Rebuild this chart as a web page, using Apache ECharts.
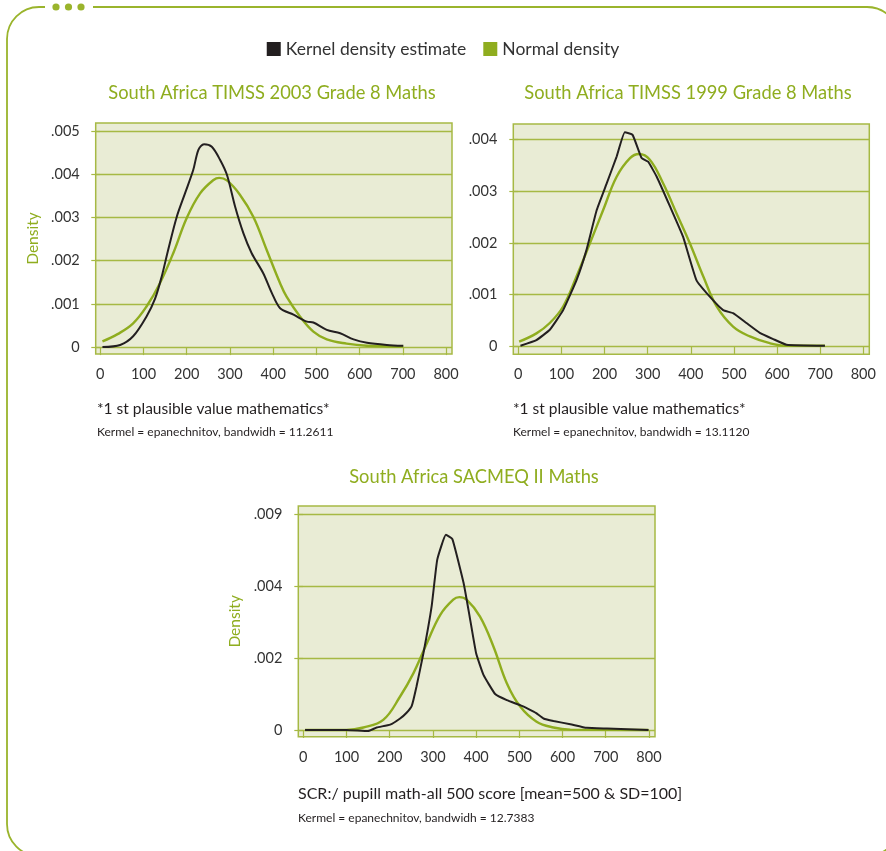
<!DOCTYPE html>
<html><head><meta charset="utf-8">
<script src="https://cdn.jsdelivr.net/npm/echarts@6/dist/echarts.min.js"></script>
<style>html,body{margin:0;padding:0;background:#fff}#c{width:886px;height:851px}</style>
</head><body><div id="c"></div>
<script>
// ---- data ----
const seriesNames = ['Kernel density estimate', 'Normal density'];
const chartTitles = ['South Africa TIMSS 2003 Grade 8 Maths', 'South Africa TIMSS 1999 Grade 8 Maths', 'South Africa SACMEQ II Maths'];
const xLabels = ['*1 st plausible value mathematics*', '*1 st plausible value mathematics*', 'SCR:/ pupill math-all 500 score [mean=500 & SD=100]'];
const notes = ['Kermel = epanechnitov, bandwidh = 11.2611', 'Kermel = epanechnitov, bandwidh = 13.1120', 'Kermel = epanechnitov, bandwidh = 12.7383'];
const xTicks = [0, 100, 200, 300, 400, 500, 600, 700, 800];
const yTicks1 = [0, 0.001, 0.002, 0.003, 0.004, 0.005];
const yTickLabels1 = ['0', '.001', '.002', '.003', '.004', '.005'];
const yTicks2 = [0, 0.001, 0.002, 0.003, 0.004];
const yTickLabels2 = ['0', '.001', '.002', '.003', '.004'];
const yTicks3 = [0, 0.002, 0.004, 0.006];
const yTickLabels3 = ['0', '.002', '.004', '.009'];

const kernel2003 = [[5,0],[46,0.00005],[76,0.00025],[107,0.00071],[127,0.00113],[142,0.00163],[157,0.00225],[177,0.00302],[196,0.00356],[215,0.0041],[227,0.00457],[240,0.0047],[258,0.00464],[277,0.00434],[293,0.00399],[312,0.00325],[331,0.00264],[350,0.00218],[377,0.00171],[397,0.00125],[416,0.0009],[447,0.00075],[478,0.00059],[493,0.00057],[524,0.0004],[555,0.00032],[586,0.00018],[617,0.0001],[663,0.00005],[701,0.00003]];
const normal2003 = [[5,0.00013],[40,0.0003],[76,0.00055],[107,0.00094],[138,0.00148],[169,0.00218],[200,0.00299],[231,0.00356],[262,0.00387],[275,0.00392],[293,0.00386],[323,0.00353],[354,0.00302],[385,0.00225],[416,0.00148],[431,0.00117],[462,0.00071],[493,0.00036],[524,0.00018],[570,0.00008],[617,0.00003],[701,0.00001]];
const kernel1999 = [[5,0.00001],[42,0.00012],[73,0.00032],[104,0.0007],[135,0.00128],[158,0.00186],[182,0.00264],[205,0.00315],[228,0.00367],[247,0.00414],[265,0.00409],[286,0.00364],[301,0.00357],[321,0.00328],[352,0.0027],[382,0.00212],[413,0.00128],[444,0.00096],[475,0.0007],[498,0.00064],[529,0.00045],[560,0.00026],[591,0.00014],[622,0.00003],[711,0.00001]];
const normal1999 = [[2,0.00009],[42,0.00025],[73,0.00045],[104,0.00077],[135,0.00135],[166,0.00199],[197,0.00264],[228,0.00328],[259,0.00364],[280,0.00372],[305,0.00361],[336,0.00315],[367,0.00257],[398,0.00199],[429,0.00135],[460,0.00077],[498,0.00038],[537,0.00019],[583,0.00006],[622,0.00001],[711,0.00001]];
const kernelSacmeq = [[4,0],[100,0],[150,-0.00003],[170,0.00007],[201,0.00015],[224,0.00032],[239,0.00048],[251,0.00067],[262,0.00121],[278,0.00213],[297,0.00343],[310,0.00473],[330,0.00542],[345,0.0053],[371,0.00408],[385,0.00315],[400,0.00213],[417,0.00153],[444,0.001],[471,0.00083],[506,0.00067],[533,0.00051],[540,0.00046],[556,0.00032],[579,0.00025],[618,0.00016],[656,0.00006],[703,0.00004],[799,0]];
const normalSacmeq = [[4,0],[100,0],[139,0.00007],[185,0.00028],[224,0.00093],[255,0.00158],[286,0.00241],[317,0.0032],[347,0.00362],[361,0.00369],[378,0.00362],[409,0.00315],[440,0.00232],[471,0.0013],[502,0.00065],[540,0.00023],[579,0.00007],[618,0.00001],[799,0]];

// ---- styles ----
const GREEN = '#8fad1f', GRID = '#a6b944', BG = '#e9ecd5', BLACK = '#231f20', TXT = '#333333';
const FONT = 'Lato';

const grids = [
  {left: 95.7, top: 123, width: 356.3, height: 231},
  {left: 513.3, top: 124, width: 356, height: 230.3},
  {left: 298.3, top: 506, width: 356.7, height: 230.7}
];
const xRanges = [[-10.6, 813.7], [-11.6, 813.9], [-11.6, 814]];
const yRanges = [[-0.00016, 0.00519], [-0.000155, 0.0043], [-0.000186, 0.00622]];
const yTicks = [yTicks1, yTicks2, yTicks3];
const yTickLabels = [yTickLabels1, yTickLabels2, yTickLabels3];
const kernels = [kernel2003, kernel1999, kernelSacmeq];
const normals = [normal2003, normal1999, normalSacmeq];
const kernelSmooth = [0.3, 0.12, 0.12];

const option = {
  animation: false,
  backgroundColor: '#fff',
  textStyle: {fontFamily: FONT},
  legend: {
    top: 35, left: 'center', icon: 'rect', itemWidth: 14, itemHeight: 14, itemGap: 17,
    textStyle: {fontFamily: FONT, fontSize: 17.5, color: TXT},
    data: seriesNames.map(n => ({name: n}))
  },
  grid: grids.map(g => Object.assign({show: true, backgroundColor: BG, borderColor: GRID, borderWidth: 1.5}, g)),
  title: [],
  xAxis: [], yAxis: [], series: [],
  graphic: []
};

const titleCenters = [[272, 84], [688, 84], [474, 468]];
const labelPos = [[97, 401, 426], [513, 401, 426], [298, 786, 812]];
const labelSizes = [15.5, 15.5, 16];
for (let i = 0; i < 3; i++) {
  option.title.push({text: chartTitles[i], left: titleCenters[i][0], top: titleCenters[i][1], textAlign: 'center', padding: 0,
    textStyle: {fontFamily: FONT, fontSize: 18.3, fontWeight: 'normal', color: GREEN}});
  option.title.push({text: xLabels[i], left: labelPos[i][0], top: labelPos[i][1], padding: 0,
    textStyle: {fontFamily: FONT, fontSize: labelSizes[i], fontWeight: 'normal', color: BLACK}});
  option.title.push({text: notes[i], left: labelPos[i][0], top: labelPos[i][2], padding: 0,
    textStyle: {fontFamily: FONT, fontSize: 12, fontWeight: 'normal', color: BLACK}});
  option.xAxis.push({
    type: 'value', gridIndex: i, min: xRanges[i][0], max: xRanges[i][1],
    axisLine: {show: false},
    axisTick: {show: true, length: 8, customValues: xTicks, lineStyle: {color: GRID, width: 1.2}},
    axisLabel: {customValues: xTicks, margin: 13, fontFamily: FONT, fontSize: 14.5, color: TXT},
    splitLine: {show: false}
  });
  const yt = yTicks[i], yl = yTickLabels[i];
  option.yAxis.push({
    type: 'value', gridIndex: i, min: yRanges[i][0], max: yRanges[i][1],
    name: i === 1 ? '' : 'Density', nameLocation: 'middle', nameGap: 55, nameRotate: 90,
    nameTextStyle: {color: GREEN, fontFamily: FONT, fontSize: 15.5},
    axisLine: {show: false},
    axisTick: {show: true, length: 9, customValues: yt, lineStyle: {color: GRID, width: 1.2}},
    axisLabel: {customValues: yt, margin: 16, fontFamily: FONT, fontSize: 14.5, color: TXT,
      formatter: v => { const k = yt.findIndex(t => Math.abs(t - v) < 1e-9); return k >= 0 ? yl[k] : ''; }},
    splitLine: {show: true, customValues: yt, lineStyle: {color: GRID, width: 1.3}}
  });
  option.series.push({
    name: seriesNames[1], type: 'line', xAxisIndex: i, yAxisIndex: i, data: normals[i],
    smooth: 0.4, symbol: 'none', lineStyle: {color: GREEN, width: 2.4}, itemStyle: {color: GREEN}, z: 3
  });
  option.series.push({
    name: seriesNames[0], type: 'line', xAxisIndex: i, yAxisIndex: i, data: kernels[i],
    smooth: kernelSmooth[i], symbol: 'none', lineStyle: {color: BLACK, width: 2}, itemStyle: {color: BLACK}, z: 4
  });
}

// decorative frame
option.graphic = [
  {type: 'rect', silent: true, z: -10, shape: {x: 7, y: 7, width: 892, height: 849, r: 32},
   style: {fill: 'none', stroke: '#9ab42c', lineWidth: 1.8}},
  {type: 'rect', silent: true, z: -9, shape: {x: 45, y: 2, width: 48, height: 10}, style: {fill: '#fff'}},
  {type: 'circle', silent: true, z: -8, shape: {cx: 56, cy: 7, r: 3.6}, style: {fill: '#9ab42c'}},
  {type: 'circle', silent: true, z: -8, shape: {cx: 68.5, cy: 7, r: 3.6}, style: {fill: '#9ab42c'}},
  {type: 'circle', silent: true, z: -8, shape: {cx: 81, cy: 7, r: 3.6}, style: {fill: '#9ab42c'}}
];

const chart = echarts.init(document.getElementById('c'), null, {renderer: 'canvas'});
chart.setOption(option);
</script>
</body></html>
